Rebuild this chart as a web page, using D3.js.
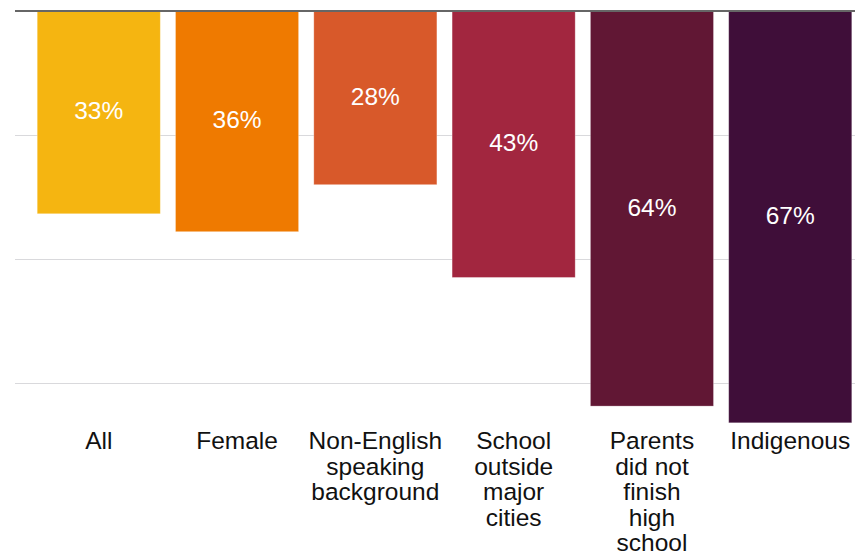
<!DOCTYPE html>
<html>
<head>
<meta charset="utf-8">
<script src="https://cdn.jsdelivr.net/npm/d3@7"></script>
<style>
  html, body { margin:0; padding:0; background:#fff; }
  svg text { font-family: "Liberation Sans", Arial, Helvetica, sans-serif; }
</style>
</head>
<body>
<div id="chart"></div>
<script>
(function() {
    const CATEGORIES = ["All","Female","Non-English speaking background","School outside major cities","Parents did not finish high school","Indigenous"];
    // category labels broken into lines as in the reference
    const LABEL_LINES = [
        ["All"],
        ["Female"],
        ["Non-English","speaking","background"],
        ["School","outside","major","cities"],
        ["Parents","did not","finish","high","school"],
        ["Indigenous"]
    ];
    const VALUES = [32.7, 35.6, 28.0, 43.0, 63.8, 66.5];
    const COLORS = ["#f5b511","#ef7a00","#d8592a","#a2263f","#611734","#3f0e39"];
    const GRID_TICKS = [20, 40, 60];

    const totalW = 855, totalH = 560;
    const svg = d3.select("#chart").append("svg")
        .attr("width", totalW).attr("height", totalH);

    const x = d3.scaleBand().domain(CATEGORIES).range([22, 867]).paddingInner(0.11).paddingOuter(0.11);
    const y = d3.scaleLinear().domain([0, 70]).range([11.5, 11.5 + 70 * 6.185]);

    // gridlines
    svg.append("g").selectAll("line").data(GRID_TICKS).enter().append("line")
        .attr("x1", 15).attr("x2", totalW)
        .attr("y1", d => Math.round(y(d)) + 0.5).attr("y2", d => Math.round(y(d)) + 0.5)
        .attr("stroke", "#d9d9dc").attr("stroke-width", 1);

    // bars hang down from the zero line
    svg.append("g").selectAll("rect").data(VALUES).enter().append("rect")
        .attr("x", (d, i) => x(CATEGORIES[i]))
        .attr("y", y(0))
        .attr("width", x.bandwidth())
        .attr("height", d => y(d) - y(0))
        .attr("fill", (d, i) => COLORS[i])
        .attr("stroke", "#fff").attr("stroke-opacity", 0.35).attr("stroke-width", 0.8);

    // zero axis line on top
    svg.append("line")
        .attr("x1", 15).attr("x2", totalW)
        .attr("y1", 11).attr("y2", 11)
        .attr("stroke", "#666").attr("stroke-width", 2);

    // value labels
    svg.append("g").selectAll("text").data(VALUES).enter().append("text")
        .attr("x", (d, i) => x(CATEGORIES[i]) + x.bandwidth() / 2)
        .attr("y", d => (y(0) + y(d)) / 2)
        .attr("dy", "0.28em")
        .attr("text-anchor", "middle")
        .attr("fill", "#fff")
        .style("font-size", "24.5px")
        .text(d => d3.format(".0f")(d) + "%");

    // category labels
    const lab = svg.append("g").selectAll("text").data(CATEGORIES).enter().append("text")
        .attr("text-anchor", "middle")
        .attr("fill", "#111")
        .style("font-size", "24.5px");
    lab.each(function(c, i) {
        const cx = x(c) + x.bandwidth() / 2;
        d3.select(this).selectAll("tspan").data(LABEL_LINES[i]).enter().append("tspan")
            .attr("x", cx)
            .attr("y", (t, j) => 449 + j * 25.5)
            .text(t => t);
    });
})();
</script>
</body>
</html>
